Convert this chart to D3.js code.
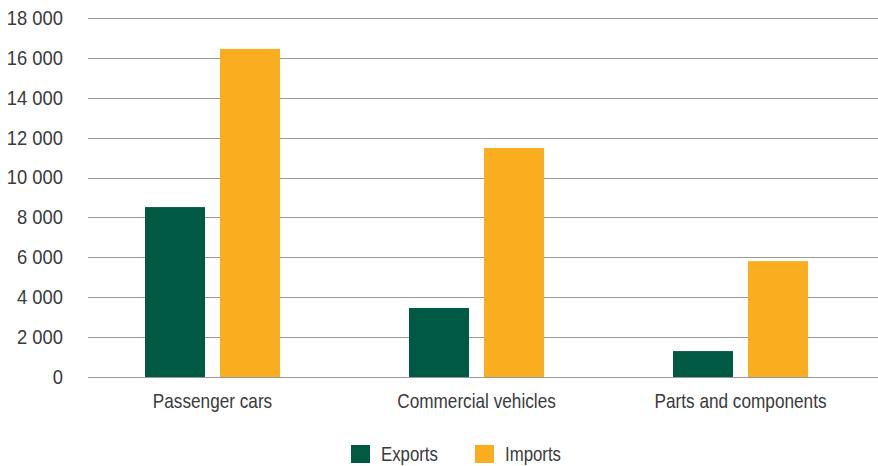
<!DOCTYPE html>
<html><head><meta charset="utf-8">
<script src="https://cdn.jsdelivr.net/npm/d3@7"></script>
<style>
html,body{margin:0;padding:0;background:#fff;}
text{font-family:"Liberation Sans",Arial,sans-serif;fill:#3a3a3a;}
</style></head>
<body><svg id="c" width="878" height="466"></svg>
<script>
const categories = ["Passenger cars", "Commercial vehicles", "Parts and components"];
const seriesNames = ["Exports", "Imports"];
const exportsVals = [8520, 3460, 1300];
const importsVals = [16450, 11480, 5810];
const yTicks = [0, 2000, 4000, 6000, 8000, 10000, 12000, 14000, 16000, 18000];
const colors = ["#005a43", "#faae1f"];

const svg = d3.select("#c");
const y = d3.scaleLinear().domain([0, 18000]).range([377, 18]);
const x = d3.scaleBand().domain(categories).range([80.5, 872.5]).padding(0);
const bw = x.bandwidth();
const xs = d3.scaleBand().domain(seriesNames).range([bw/2 - 67.5, bw/2 + 67.5]).paddingInner(0.2);
const fmt = v => d3.format(",")(v).replace(/,/g, " ");

// gridlines
svg.append("g").selectAll("line").data(yTicks).join("line")
  .attr("x1", 88).attr("x2", 878)
  .attr("y1", d => Math.round(y(d)) + 0.5).attr("y2", d => Math.round(y(d)) + 0.5)
  .attr("stroke", "#9a9a9a").attr("stroke-width", 1.2);

// y axis labels
const yAxis = d3.axisLeft(y).tickValues(yTicks).tickFormat(fmt).tickSize(0).tickPadding(0);
const ga = svg.append("g").attr("transform", "translate(63,0)").call(yAxis);
ga.select(".domain").remove();
ga.selectAll("text").style("font-size", "20px").attr("fill", "#3a3a3a")
  .style("font-family", "'Liberation Sans',Arial,sans-serif")
  .attr("transform", "scale(0.92,1)");

const data = categories.map((c, i) => ({cat: c, vals: [exportsVals[i], importsVals[i]]}));
const groups = svg.append("g").selectAll("g").data(data).join("g")
  .attr("transform", d => `translate(${x(d.cat)},0)`);
groups.selectAll("rect").data(d => d.vals.map((v, j) => ({s: seriesNames[j], v, j})))
  .join("rect")
  .attr("x", d => xs(d.s)).attr("width", xs.bandwidth())
  .attr("y", d => y(d.v)).attr("height", d => y(0) - y(d.v))
  .attr("fill", d => colors[d.j]);

// x axis labels
const xAxis = d3.axisBottom(x).tickSize(0).tickPadding(0);
const gx = svg.append("g").attr("transform", "translate(0,394)").call(xAxis);
gx.select(".domain").remove();
gx.selectAll("text").style("font-size", "20px").attr("fill", "#3a3a3a")
  .style("font-family", "'Liberation Sans',Arial,sans-serif")
  .attr("transform", "scale(0.86,1)");

// legend
const legX = [351, 475];
const leg = svg.append("g").selectAll("g").data(seriesNames).join("g")
  .attr("transform", (d, i) => `translate(${legX[i]},445)`);
leg.append("rect").attr("width", 19).attr("height", 18).attr("fill", (d, i) => colors[i]);
leg.append("text").attr("transform", "translate(30,16) scale(0.84,1)").text(d => d).style("font-size", "20px");
</script></body></html>
